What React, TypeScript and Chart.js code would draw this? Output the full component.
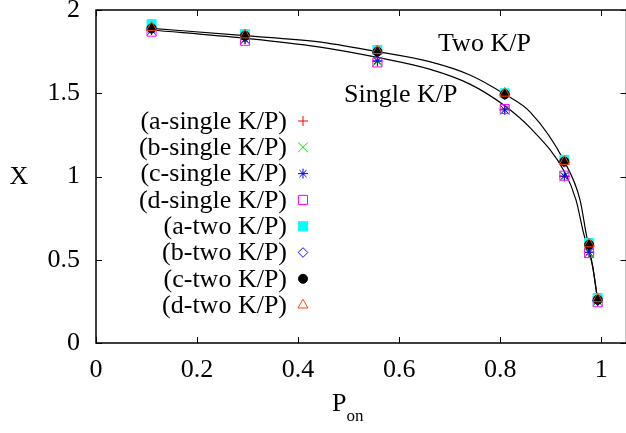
import React, { useEffect, useRef } from "react";
import { Chart, registerables } from "chart.js";
import { drawPoint } from "chart.js/helpers";

Chart.register(...registerables);

// ---- data ----
const pOn = [0.11, 0.295, 0.557, 0.809, 0.927, 0.976, 0.993];

const aSingle = [1.88, 1.825, 1.69, 1.405, 1.0, 0.545, 0.25];
const bSingle = [1.875, 1.82, 1.69, 1.4, 1.0, 0.54, 0.25];
const cSingle = [1.88, 1.825, 1.695, 1.4, 1.003, 0.545, 0.255];
const dSingle = [1.87, 1.815, 1.685, 1.405, 1.005, 0.54, 0.245];
const aTwo = [1.915, 1.855, 1.76, 1.5, 1.1, 0.6, 0.27];
const bTwo = [1.885, 1.835, 1.745, 1.49, 1.085, 0.585, 0.255];
const cTwo = [1.89, 1.846, 1.75, 1.494, 1.09, 0.59, 0.26];
const dTwo = [1.895, 1.85, 1.755, 1.5, 1.09, 0.595, 0.265];

// fitted curves
const twoFitX = [0.11, 0.295, 0.437, 0.557, 0.66, 0.74, 0.809, 0.86, 0.927, 0.958, 0.97, 0.983, 0.993];
const twoFitY = [1.89, 1.846, 1.81, 1.75, 1.69, 1.61, 1.494, 1.385, 1.09, 0.86, 0.66, 0.46, 0.26];
const singleFitX = [0.11, 0.295, 0.437, 0.557, 0.66, 0.74, 0.809, 0.86, 0.927, 0.95, 0.965, 0.983, 0.993];
const singleFitY = [1.88, 1.83, 1.78, 1.715, 1.645, 1.555, 1.425, 1.29, 1.03, 0.86, 0.66, 0.46, 0.25];

const xTickValues = [0, 0.2, 0.4, 0.6, 0.8, 1];
const xTickLabels = ["0", "0.2", "0.4", "0.6", "0.8", "1"];
const yTickValues = [0, 0.5, 1, 1.5, 2];
const yTickLabels = ["0", "0.5", "1", "1.5", "2"];

const seriesLabels = [
  "(a-single K/P)",
  "(b-single K/P)",
  "(c-single K/P)",
  "(d-single K/P)",
  "(a-two K/P)",
  "(b-two K/P)",
  "(c-two K/P)",
  "(d-two K/P)",
];
const seriesValues = [aSingle, bSingle, cSingle, dSingle, aTwo, bTwo, cTwo, dTwo];

const seriesStyles = [
  { pointStyle: "cross", color: "#ff0000", fill: "rgba(0,0,0,0)", radius: 5 },
  { pointStyle: "crossRot", color: "#00e000", fill: "rgba(0,0,0,0)", radius: 7 },
  { pointStyle: "star", color: "#0000ff", fill: "rgba(0,0,0,0)", radius: 5 },
  { pointStyle: "rect", color: "#ff00ff", fill: "rgba(0,0,0,0)", radius: 6.4 },
  { pointStyle: "rect", color: "#00ffff", fill: "#00ffff", radius: 6.4 },
  { pointStyle: "rectRot", color: "#1010ff", fill: "rgba(0,0,0,0)", radius: 4.8 },
  { pointStyle: "circle", color: "#000000", fill: "#000000", radius: 4.5 },
  { pointStyle: "triangle", color: "#ff4500", fill: "rgba(0,0,0,0)", radius: 5.8 },
];

const FONT = "'Liberation Serif', 'Times New Roman', serif";

const decorPlugin = {
  id: "decor",
  afterDraw(chart: any) {
    const ctx = chart.ctx;
    const { left, right, top, bottom } = chart.chartArea;
    const xs = chart.scales.x;
    const ys = chart.scales.y;
    ctx.save();
    // ticks inward, mirrored
    ctx.strokeStyle = "#000";
    ctx.lineWidth = 1;
    const tl = 6;
    ctx.beginPath();
    xTickValues.forEach((v) => {
      const px = Math.round(xs.getPixelForValue(v)) + 0.5;
      ctx.moveTo(px, bottom);
      ctx.lineTo(px, bottom - tl);
      ctx.moveTo(px, top);
      ctx.lineTo(px, top + tl);
    });
    yTickValues.forEach((v) => {
      const py = Math.round(ys.getPixelForValue(v)) + 0.5;
      ctx.moveTo(left, py);
      ctx.lineTo(left + tl, py);
      ctx.moveTo(right, py);
      ctx.lineTo(right - tl, py);
    });
    ctx.stroke();
    // box
    ctx.lineWidth = 1.5;
    ctx.strokeRect(left, top, right - left, bottom - top);

    ctx.fillStyle = "#000";
    // axis titles
    ctx.font = `26px ${FONT}`;
    ctx.textAlign = "center";
    ctx.textBaseline = "middle";
    ctx.fillText("X", 19, 177);
    ctx.textAlign = "left";
    ctx.textBaseline = "alphabetic";
    ctx.fillText("P", 332, 411);
    const pw = ctx.measureText("P").width;
    ctx.font = `17px ${FONT}`;
    ctx.fillText("on", 332 + pw, 421);

    // annotations
    ctx.font = `26px ${FONT}`;
    ctx.textAlign = "left";
    ctx.textBaseline = "middle";
    ctx.fillText("Two K/P", xs.getPixelForValue(0.677), ys.getPixelForValue(1.796));
    ctx.fillText("Single K/P", xs.getPixelForValue(0.491), ys.getPixelForValue(1.49));

    // legend
    const textRight = 287;
    const markX = 303;
    const y0 = 121;
    const dy = 26.3;
    seriesLabels.forEach((lab, i) => {
      const y = y0 + i * dy;
      ctx.fillStyle = "#000";
      ctx.textAlign = "right";
      ctx.textBaseline = "middle";
      ctx.font = `26px ${FONT}`;
      ctx.fillText(lab, textRight, y + 1);
      const st = seriesStyles[i];
      ctx.strokeStyle = st.color;
      ctx.fillStyle = st.fill;
      ctx.lineWidth = 1;
      drawPoint(ctx, { pointStyle: st.pointStyle, radius: st.radius, rotation: 0, borderWidth: 1 } as any, markX, y);
    });
    ctx.restore();
  },
};

export default function App() {
  const ref = useRef<HTMLCanvasElement | null>(null);
  useEffect(() => {
    if (!ref.current) return;
    const datasets: any[] = [
      {
        label: "two fit",
        data: twoFitX.map((x, i) => ({ x, y: twoFitY[i] })),
        showLine: true,
        borderColor: "#000",
        borderWidth: 1.2,
        pointRadius: 0,
        cubicInterpolationMode: "monotone",
        order: 20,
      },
      {
        label: "single fit",
        data: singleFitX.map((x, i) => ({ x, y: singleFitY[i] })),
        showLine: true,
        borderColor: "#000",
        borderWidth: 1.2,
        pointRadius: 0,
        cubicInterpolationMode: "monotone",
        order: 21,
      },
    ];
    seriesValues.forEach((vals, i) => {
      const st = seriesStyles[i];
      datasets.push({
        label: seriesLabels[i],
        data: pOn.map((x, j) => ({ x, y: vals[j] })),
        showLine: false,
        pointStyle: st.pointStyle,
        pointRadius: st.radius,
        pointBorderColor: st.color,
        pointBackgroundColor: st.fill,
        pointBorderWidth: 1,
        order: 10 - i,
      });
    });
    const chart = new Chart(ref.current, {
      type: "scatter",
      data: { datasets },
      options: {
        animation: false,
        responsive: false,
        devicePixelRatio: 1,
        layout: { padding: { left: 0, top: 10, right: 13.5, bottom: 0 } },
        plugins: { legend: { display: false }, tooltip: { enabled: false } },
        scales: {
          x: {
            type: "linear",
            min: 0,
            max: 1.05,
            grid: { display: false, drawTicks: false },
            border: { display: false },
            afterBuildTicks: (s: any) => {
              s.ticks = xTickValues.map((v) => ({ value: v }));
            },
            afterFit: (s: any) => {
              s.height = 90;
              s.paddingLeft = 0;
              s.paddingRight = 0;
            },
            ticks: {
              padding: 12,
              color: "#000",
              font: { family: FONT, size: 26 },
              maxRotation: 0,
              autoSkip: false,
              callback: (v: any) => {
                const k = xTickValues.indexOf(Number(v));
                return k >= 0 ? xTickLabels[k] : "";
              },
            },
          },
          y: {
            type: "linear",
            min: 0,
            max: 2,
            grid: { display: false, drawTicks: false },
            border: { display: false },
            afterBuildTicks: (s: any) => {
              s.ticks = yTickValues.map((v) => ({ value: v }));
            },
            afterFit: (s: any) => {
              s.width = 96;
              s.paddingTop = 0;
              s.paddingBottom = 0;
            },
            ticks: {
              padding: 16,
              color: "#000",
              font: { family: FONT, size: 26 },
              autoSkip: false,
              callback: (v: any) => {
                const k = yTickValues.indexOf(Number(v));
                return k >= 0 ? yTickLabels[k] : "";
              },
            },
          },
        },
      },
      plugins: [decorPlugin],
    } as any);
    return () => chart.destroy();
  }, []);
  return (
    <div
      style={{
        position: "fixed",
        left: 0,
        top: 0,
        width: 626,
        height: 433,
        overflow: "hidden",
        background: "#fff",
      }}
    >
      <canvas ref={ref} width={640} height={433} style={{ width: 640, height: 433, display: "block" }} />
    </div>
  );
}
